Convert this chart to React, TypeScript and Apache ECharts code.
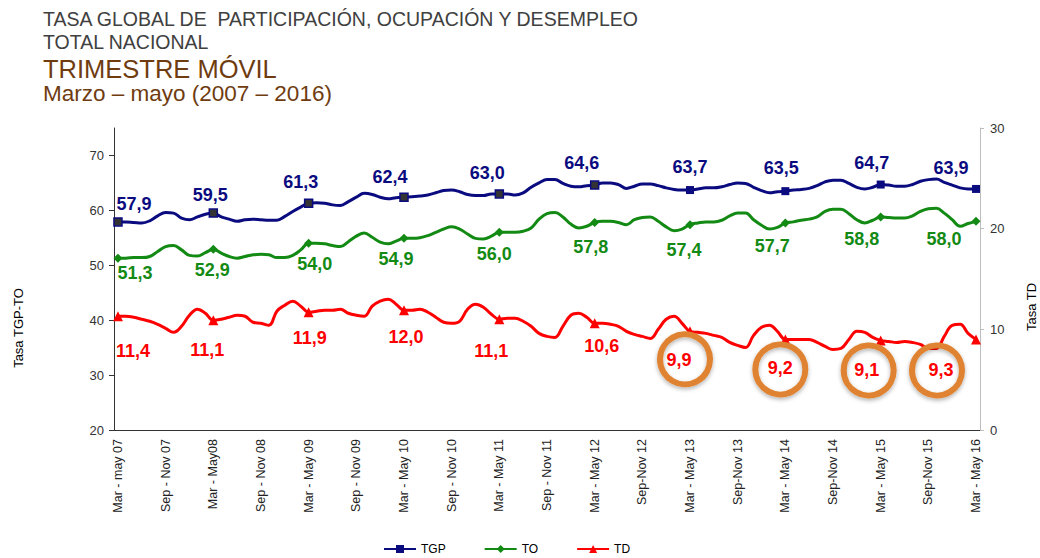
import React, { useEffect, useRef } from 'react';
import * as echarts from 'echarts';

const FONT = '"Liberation Sans", Arial, sans-serif';

// Tick labels shown on the x axis (every 6th rolling quarter)
const SHOWN_LABELS = [
  'Mar - may 07', 'Sep - Nov 07', 'Mar - May08', 'Sep - Nov 08', 'Mar - May 09',
  'Sep - Nov 09', 'Mar - May 10', 'Sep - Nov 10', 'Mar - May 11', 'Sep - Nov 11',
  'Mar - May 12', 'Sep-Nov 12', 'Mar - May 13', 'Sep-Nov 13', 'Mar - May 14',
  'Sep-Nov 14', 'Mar - May 15', 'Sep-Nov 15', 'Mar - May 16',
];
const MONTHS = ['Ene', 'Feb', 'Mar', 'Abr', 'May', 'Jun', 'Jul', 'Ago', 'Sep', 'Oct', 'Nov', 'Dic'];

// Rolling quarters Mar-May 07 ... Mar-May 16 (109 periods)
const CATEGORIES: string[] = Array.from({ length: 109 }, (_, i) => {
  if (i % 6 === 0) return SHOWN_LABELS[i / 6];
  const s = (2 + i) % 12;
  const e = (s + 2) % 12;
  const yEnd = 7 + Math.floor((4 + i) / 12);
  return `${MONTHS[s]} - ${MONTHS[e]} ${String(yEnd).padStart(2, '0')}`;
});

const TGP = [
  57.9, 57.9, 57.8, 57.7, 58.1, 59.0, 59.6, 59.5, 58.6, 58.3, 58.8, 59.3, 59.5,
  58.8, 58.4, 58.0, 58.3, 58.4, 58.3, 58.2, 58.2, 58.9, 59.8, 60.6, 61.3,
  61.4, 61.3, 61.0, 60.9, 61.6, 62.4, 63.1, 62.9, 62.4, 62.1, 62.3, 62.4,
  62.5, 62.6, 62.8, 63.2, 63.6, 63.7, 63.4, 62.9, 62.7, 62.7, 63.0, 63.0,
  63.0, 62.8, 63.2, 64.2, 65.0, 65.6, 65.6, 64.9, 64.4, 64.3, 64.5, 64.6,
  65.0, 65.0, 64.7, 64.0, 64.4, 64.8, 64.8, 64.5, 64.1, 63.8, 63.7, 63.7,
  63.9, 64.1, 64.1, 64.3, 64.7, 65.0, 64.9, 64.2, 63.6, 63.2, 63.4, 63.5,
  63.7, 63.8, 64.0, 64.5, 65.2, 65.5, 65.5, 64.9, 64.2, 63.9, 64.2, 64.7,
  64.6, 64.4, 64.4, 64.7, 65.3, 65.6, 65.7, 65.1, 64.6, 64.1, 63.9, 63.9,
];
const TO = [
  51.3, 51.3, 51.4, 51.4, 51.6, 52.5, 53.4, 53.6, 52.8, 51.8, 51.7, 52.3, 52.9,
  52.2, 51.6, 51.3, 51.6, 51.9, 52.0, 51.9, 51.4, 51.4, 51.8, 52.8, 54.0,
  54.0, 53.9, 53.6, 53.4, 54.3, 55.3, 55.9, 55.1, 54.2, 53.9, 54.4, 54.9,
  54.9, 55.0, 55.4, 56.0, 56.6, 57.0, 56.6, 55.7, 54.9, 54.8, 55.3, 56.0,
  56.0, 56.0, 56.2, 56.8, 58.4, 59.4, 59.6, 58.8, 57.5, 56.8, 57.1, 57.8,
  58.0, 58.0, 57.8, 57.4, 58.3, 58.7, 58.8, 58.0, 57.0, 56.3, 56.6, 57.4,
  57.7, 57.9, 57.9, 58.2, 59.0, 59.5, 59.5, 58.3, 57.3, 56.6, 56.9, 57.7,
  57.9, 58.2, 58.4, 58.8, 59.8, 60.2, 60.2, 59.4, 58.3, 57.7, 58.2, 58.8,
  58.7, 58.6, 58.6, 59.0, 59.8, 60.3, 60.4, 59.5, 58.3, 57.1, 57.6, 58.0,
];
const TD = [
  11.3, 11.3, 11.2, 11.0, 10.8, 10.5, 10.1, 9.7, 10.3, 11.4, 12.0, 11.6, 10.9,
  11.0, 11.2, 11.4, 11.3, 10.7, 10.6, 10.4, 11.8, 12.4, 12.8, 12.3, 11.7,
  11.8, 11.9, 11.9, 12.0, 11.6, 11.4, 11.3, 12.3, 12.8, 13.0, 12.5, 11.9,
  11.9, 12.0, 11.7, 11.2, 10.7, 10.6, 10.8, 12.0, 12.5, 12.2, 11.5, 11.0,
  11.1, 11.1, 10.8, 10.3, 9.6, 9.3, 9.2, 10.3, 11.4, 11.6, 11.2, 10.6,
  10.6, 10.5, 10.3, 9.8, 9.5, 9.3, 9.1, 10.0, 11.0, 11.3, 10.6, 9.8,
  9.7, 9.6, 9.4, 9.2, 8.7, 8.4, 8.2, 9.4, 10.2, 10.4, 9.8, 9.0,
  9.0, 9.0, 9.0, 8.7, 8.3, 8.0, 8.1, 9.0, 9.8, 9.7, 9.2, 8.9,
  8.8, 8.7, 8.8, 8.7, 8.5, 8.1, 8.1, 9.3, 10.4, 10.5, 9.6, 9.0,
];

// Values printed at each Mar-May period
const TGP_LABELS = [57.9, 59.5, 61.3, 62.4, 63.0, 64.6, 63.7, 63.5, 64.7, 63.9];
const TO_LABELS = [51.3, 52.9, 54.0, 54.9, 56.0, 57.8, 57.4, 57.7, 58.8, 58.0];
const TD_LABELS = [11.4, 11.1, 11.9, 12.0, 11.1, 10.6, 9.9, 9.2, 9.1, 9.3];
const CIRCLED = [6, 7, 8, 9];

// label offsets (style) from marker centre
const TGP_OFF = [[16, -18], [-3, -18], [-8, -21], [-14, -20], [-12, -21], [-13, -22], [0, -23], [-4, -23], [-9, -22], [-25, -21]];
const TO_OFF = [[17, 15], [-1, 21], [6, 21], [-8, 21], [-5, 22], [-4, 25], [-6, 25], [-13, 23], [-19, 22], [-32, 18]];
const TD_OFF = [[15, 35], [-6, 30], [1, 26], [2, 27], [-8, 32], [7, 23], [-11, 29], [-5, 29], [-14, 30], [-35, 31]];
const CIRCLE_SHIFT = [[6, -1], [0, 1], [2, 0], [-4, 0]];

const fmt = (v: number) => v.toFixed(1).replace('.', ',');

function buildData(values: number[], labels: number[], offs: number[][], color: string, itemStyleFn?: (k: number) => any) {
  return values.map((v, i) => {
    if (i % 12 !== 0) return { value: v, symbol: 'none' };
    const k = i / 12;
    const d: any = {
      value: v,
      label: {
        show: true,
        position: 'inside',
        offset: offs[k],
        formatter: fmt(labels[k]),
        color,
        fontSize: 18,
        fontWeight: 'bold',
        fontFamily: FONT,
      },
    };
    if (itemStyleFn) d.itemStyle = itemStyleFn(k);
    return d;
  });
}

const NAVY = '#0B0B80';
const GREEN = '#138A13';
const RED = '#FF0000';

export default function App() {
  const ref = useRef<HTMLDivElement>(null);
  useEffect(() => {
    document.body.style.margin = '0';
    const chart = echarts.init(ref.current!, null, { renderer: 'svg' });
    chart.setOption({
      animation: false,
      backgroundColor: '#ffffff',
      textStyle: { fontFamily: FONT },
      grid: { left: 114, right: 60, top: 128, bottom: 128 },
      legend: {
        data: ['TGP', 'TO', 'TD'],
        left: 378,
        top: 538,
        itemWidth: 32,
        itemHeight: 10,
        itemGap: 38,
        textStyle: { fontSize: 12, color: '#000', fontFamily: FONT },
      },
      xAxis: {
        type: 'category',
        data: CATEGORIES,
        boundaryGap: true,
        axisLine: { lineStyle: { color: '#333', width: 1 } },
        axisTick: { interval: 7, length: 5, lineStyle: { color: '#333' } },
        axisLabel: { interval: 5, rotate: 90, fontSize: 12.5, color: '#222', margin: 9, fontFamily: FONT },
        splitLine: { show: false },
      },
      yAxis: [
        {
          type: 'value',
          min: 20,
          max: 75,
          interval: 10,
          axisLine: { show: true, lineStyle: { color: '#333' } },
          axisTick: { show: true, length: 5, lineStyle: { color: '#333' }, customValues: [20, 30, 40, 50, 60, 70] },
          axisLabel: { fontSize: 13, color: '#333', margin: 10, fontFamily: FONT, customValues: [20, 30, 40, 50, 60, 70] },
          splitLine: { show: false },
        },
        {
          type: 'value',
          min: 0,
          max: 30,
          interval: 10,
          position: 'right',
          axisLine: { show: true, lineStyle: { color: '#bdbdbd' } },
          axisTick: { show: true, length: 4, lineStyle: { color: '#bdbdbd' } },
          axisLabel: { fontSize: 13, color: '#333', margin: 10, fontFamily: FONT },
          splitLine: { show: false },
        },
      ],
      series: [
        {
          name: 'TGP',
          type: 'line',
          yAxisIndex: 0,
          smooth: 0.4,
          symbol: 'rect',
          symbolSize: 8,
          showAllSymbol: true,
          lineStyle: { color: NAVY, width: 3 },
          itemStyle: { color: NAVY },
          data: buildData(TGP, TGP_LABELS, TGP_OFF, NAVY, (k) =>
            k < 6 ? { color: '#333333', borderColor: NAVY, borderWidth: 1.5 } : { color: NAVY }
          ),
        },
        {
          name: 'TO',
          type: 'line',
          yAxisIndex: 0,
          smooth: 0.4,
          symbol: 'diamond',
          symbolSize: 9,
          showAllSymbol: true,
          lineStyle: { color: GREEN, width: 3 },
          itemStyle: { color: GREEN },
          data: buildData(TO, TO_LABELS, TO_OFF, GREEN),
        },
        {
          name: 'TD',
          type: 'line',
          yAxisIndex: 1,
          smooth: 0.4,
          symbol: 'triangle',
          symbolSize: 10,
          showAllSymbol: true,
          lineStyle: { color: RED, width: 3 },
          itemStyle: { color: RED },
          data: buildData(TD, TD_LABELS, TD_OFF, RED),
        },
      ],
    });

    const texts: any[] = [
      { type: 'text', x: 43, y: 18.5, style: { text: 'TASA GLOBAL DE  PARTICIPACIÓN, OCUPACIÓN Y DESEMPLEO', fontSize: 19.5, fontFamily: FONT, fill: '#404040', verticalAlign: 'middle' } },
      { type: 'text', x: 43, y: 42, style: { text: 'TOTAL NACIONAL', fontSize: 19.5, fontFamily: FONT, fill: '#404040', verticalAlign: 'middle' } },
      { type: 'text', x: 43, y: 69, style: { text: 'TRIMESTRE MÓVIL', fontSize: 25.5, fontFamily: FONT, fill: '#6F3C10', verticalAlign: 'middle' } },
      { type: 'text', x: 43, y: 93, style: { text: 'Marzo – mayo (2007 – 2016)', fontSize: 22.5, fontFamily: FONT, fill: '#6F3C10', verticalAlign: 'middle' } },
      { type: 'text', x: 18, y: 328, rotation: Math.PI / 2, style: { text: 'Tasa TGP-TO', fontSize: 13, fontFamily: FONT, fill: '#000', align: 'center', verticalAlign: 'middle' } },
      { type: 'text', x: 1031, y: 307, rotation: Math.PI / 2, style: { text: 'Tasa TD', fontSize: 13, fontFamily: FONT, fill: '#000', align: 'center', verticalAlign: 'middle' } },
    ];
    const circles = CIRCLED.map((k, j) => {
      const i = k * 12;
      const p = chart.convertToPixel({ xAxisIndex: 0, yAxisIndex: 1 } as any, [i, TD[i]]) as number[];
      const o = TD_OFF[k];
      const s = CIRCLE_SHIFT[j];
      return {
        type: 'circle',
        z: 100,
        shape: { cx: p[0] + o[0] + s[0], cy: p[1] + o[1] + s[1], r: 25 },
        style: { fill: 'none', stroke: '#DF8330', lineWidth: 6, shadowBlur: 4, shadowColor: 'rgba(0,0,0,0.3)', shadowOffsetY: 2 },
      };
    });
    chart.setOption({ graphic: [...texts, ...circles] });
    return () => chart.dispose();
  }, []);
  return <div ref={ref} style={{ width: 1040, height: 558 }} />;
}
